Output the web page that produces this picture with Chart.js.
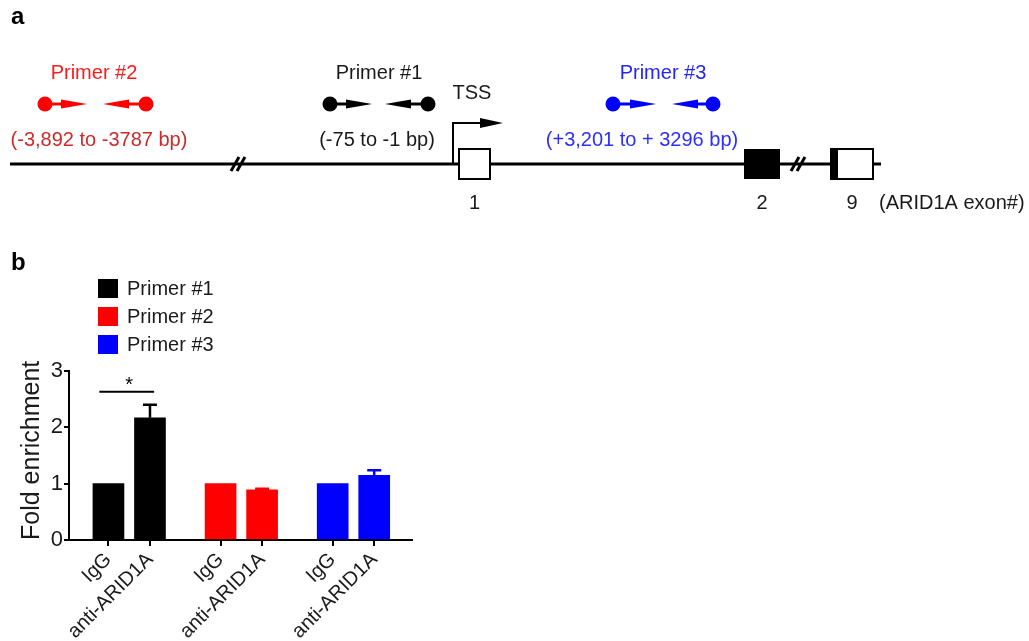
<!DOCTYPE html>
<html>
<head>
<meta charset="utf-8">
<script src="https://cdn.jsdelivr.net/npm/chart.js@4.4.1/dist/chart.umd.min.js"></script>
<style>
  html, body { margin: 0; padding: 0; background: #fff; }
  #page { position: relative; width: 1029px; height: 641px; overflow: hidden; }
  #diagramBox { position: absolute; left: 0; top: 0; width: 1029px; height: 240px; }
  #barBox { position: absolute; left: 0; top: 250px; width: 430px; height: 391px; }
</style>
</head>
<body>
<div id="page">
  <div id="diagramBox"><canvas id="diagrama"></canvas></div>
  <div id="barBox"><canvas id="grafico"></canvas></div>
</div>
<script>
// ---- panel a: ARID1A promoter schematic (positions along the drawn track) ----
const primerNames = ['Primer #1', 'Primer #2', 'Primer #3'];
const primerRanges = ['(-75 to -1 bp)', '(-3,892 to -3787 bp)', '(+3,201 to + 3296 bp)'];
const primerFwdDot = [330, 45, 613];
const primerFwdTip = [372, 87, 656];
const primerRevTip = [385, 103, 672];
const primerRevDot = [428, 146, 713];
const primerTitleAt = [379, 94, 663];
const primerRangeAt = [377, 99, 642];
const exonNumbers = ['1', '2', '9'];
const exonStart = [459, 744, 831];
const exonEnd = [490, 780, 873];
const backbone = [10, 881];
const breakAt = [238, 798];
const tssAt = 453;
const tssTip = 503;

// ---- panel b: ChIP-qPCR fold enrichment ----
const sampleLabels = ['IgG', 'anti-ARID1A'];
const primer1Values = [1.0, 2.17];
const primer2Values = [1.0, 0.89];
const primer3Values = [1.0, 1.15];
const primer1Errors = [0, 0.23];
const primer2Errors = [0, 0.02];
const primer3Errors = [0, 0.09];
const xSlots = [[0, 1], [2.7, 3.7], [5.4, 6.4]];
const yTicks = [0, 1, 2, 3];
const significance = { from: -0.22, to: 1.1, level: 2.63, mark: '*' };

const primerColors = ['#000000', '#ff0000', '#0000ff'];
const titleColors = ['#1a1a1a', '#ff1a1a', '#2424ff'];
const rangeColors = ['#1a1a1a', '#cc2b2b', '#2e2eff'];

const FONT = "'Liberation Sans', Arial, Helvetica, sans-serif";
Chart.defaults.font.family = FONT;
Chart.defaults.color = '#000';

// row heights of the schematic
const rowTitle = 73, rowPrimer = 104, rowTss = 123, rowRange = 140, rowBackbone = 164, rowExonNo = 203;

const diagramPlugin = {
  id: 'diagrama',
  afterDatasetsDraw(chart) {
    const ctx = chart.ctx;
    const X = v => chart.scales.x.getPixelForValue(v);
    const Y = v => chart.scales.y.getPixelForValue(v);
    ctx.save();

    // break marks //
    ctx.strokeStyle = '#000';
    ctx.lineWidth = 3;
    breakAt.forEach(b => {
      [-3, 3].forEach(off => {
        ctx.beginPath();
        ctx.moveTo(X(b + off - 4), Y(rowBackbone + 7));
        ctx.lineTo(X(b + off + 4), Y(rowBackbone - 7));
        ctx.stroke();
      });
    });

    // exons
    ctx.lineWidth = 2;
    exonNumbers.forEach((n, i) => {
      const x0 = X(exonStart[i]), x1 = X(exonEnd[i]);
      const y0 = Y(rowBackbone - 15), y1 = Y(rowBackbone + 15);
      if (n === '2') {
        ctx.fillStyle = '#000';
        ctx.fillRect(x0, y0, x1 - x0, y1 - y0);
      } else {
        ctx.fillStyle = '#fff';
        ctx.fillRect(x0, y0, x1 - x0, y1 - y0);
        ctx.strokeRect(x0, y0, x1 - x0, y1 - y0);
        if (n === '9') {
          ctx.fillStyle = '#000';
          ctx.fillRect(x0 - 1, y0 - 1, 8, y1 - y0 + 2);
        }
      }
      ctx.fillStyle = '#1a1a1a';
      ctx.font = '20px ' + FONT;
      ctx.textAlign = 'center';
      ctx.textBaseline = 'middle';
      ctx.fillText(n, (x0 + x1) / 2, Y(rowExonNo));
    });
    ctx.textAlign = 'left';
    ctx.fillText('(ARID1A exon#)', X(exonEnd[2] + 6), Y(rowExonNo));

    // TSS arrow
    ctx.strokeStyle = '#000';
    ctx.lineWidth = 2;
    ctx.beginPath();
    ctx.moveTo(X(tssAt), Y(rowBackbone));
    ctx.lineTo(X(tssAt), Y(rowTss));
    ctx.lineTo(X(tssTip) - 20, Y(rowTss));
    ctx.stroke();
    ctx.fillStyle = '#000';
    ctx.beginPath();
    ctx.moveTo(X(tssTip), Y(rowTss));
    ctx.lineTo(X(tssTip) - 23, Y(rowTss) - 5);
    ctx.lineTo(X(tssTip) - 23, Y(rowTss) + 5);
    ctx.closePath();
    ctx.fill();
    ctx.font = '20px ' + FONT;
    ctx.textAlign = 'center';
    ctx.fillStyle = '#1a1a1a';
    ctx.fillText('TSS', X(tssAt + 19), Y(rowTss - 30));

    // primer arrows and labels
    primerNames.forEach((name, i) => {
      const c = primerColors[i];
      const y = Y(rowPrimer);
      ctx.strokeStyle = c;
      ctx.fillStyle = c;
      ctx.lineWidth = 3;
      const pairs = [[primerFwdDot[i], primerFwdTip[i]], [primerRevDot[i], primerRevTip[i]]];
      pairs.forEach(([d, t]) => {
        const dir = t > d ? 1 : -1;
        const xt = X(t);
        ctx.beginPath();
        ctx.moveTo(X(d), y);
        ctx.lineTo(xt - dir * 20, y);
        ctx.stroke();
        ctx.beginPath();
        ctx.moveTo(xt, y);
        ctx.lineTo(xt - dir * 26, y - 4.5);
        ctx.lineTo(xt - dir * 26, y + 4.5);
        ctx.closePath();
        ctx.fill();
      });
      ctx.font = '20px ' + FONT;
      ctx.textAlign = 'center';
      ctx.textBaseline = 'middle';
      ctx.fillStyle = titleColors[i];
      ctx.fillText(name, X(primerTitleAt[i]), Y(rowTitle));
      ctx.fillStyle = rangeColors[i];
      ctx.fillText(primerRanges[i], X(primerRangeAt[i]), Y(rowRange));
    });

    // panel letter
    ctx.fillStyle = '#000';
    ctx.font = 'bold 24px ' + FONT;
    ctx.textAlign = 'left';
    ctx.textBaseline = 'alphabetic';
    ctx.fillText('a', 11, 24);
    ctx.restore();
  }
};

new Chart(document.getElementById('diagrama'), {
  type: 'scatter',
  data: {
    datasets: [
      {
        type: 'line',
        data: backbone.map(x => ({ x, y: rowBackbone })),
        borderColor: '#000',
        borderWidth: 3,
        pointRadius: 0
      },
      ...primerNames.map((name, i) => ({
        label: name,
        data: [{ x: primerFwdDot[i], y: rowPrimer }, { x: primerRevDot[i], y: rowPrimer }],
        backgroundColor: primerColors[i],
        borderColor: primerColors[i],
        pointRadius: 7.5,
        borderWidth: 0
      }))
    ]
  },
  options: {
    responsive: true,
    maintainAspectRatio: false,
    animation: false,
    layout: { padding: 0, autoPadding: false },
    plugins: { legend: { display: false }, tooltip: { enabled: false } },
    scales: {
      x: { type: 'linear', display: false, min: 0, max: 1029 },
      y: { type: 'linear', display: false, min: 0, max: 240, reverse: true }
    }
  },
  plugins: [diagramPlugin]
});

// ---- panel b ----
const values = [primer1Values, primer2Values, primer3Values];
const errors = [primer1Errors, primer2Errors, primer3Errors];

const extrasPlugin = {
  id: 'extras',
  afterDatasetsDraw(chart) {
    const ctx = chart.ctx;
    const xs = chart.scales.x, ys = chart.scales.y;
    ctx.save();
    // error bars (upper only)
    chart.data.datasets.forEach(ds => {
      ds.data.forEach((p, j) => {
        const e = ds.errors[j];
        if (!e) return;
        const x = xs.getPixelForValue(p.x);
        const y0 = ys.getPixelForValue(p.y);
        const y1 = ys.getPixelForValue(p.y + e);
        ctx.strokeStyle = ds.backgroundColor;
        ctx.lineWidth = 2.5;
        ctx.beginPath();
        ctx.moveTo(x, y0);
        ctx.lineTo(x, y1);
        ctx.moveTo(x - 7, y1);
        ctx.lineTo(x + 7, y1);
        ctx.stroke();
      });
    });
    // significance bracket
    const sy = ys.getPixelForValue(significance.level);
    ctx.strokeStyle = '#000';
    ctx.lineWidth = 2;
    ctx.beginPath();
    ctx.moveTo(xs.getPixelForValue(significance.from), sy);
    ctx.lineTo(xs.getPixelForValue(significance.to), sy);
    ctx.stroke();
    ctx.fillStyle = '#000';
    ctx.font = '20px ' + FONT;
    ctx.textAlign = 'center';
    ctx.textBaseline = 'alphabetic';
    ctx.fillText(significance.mark, xs.getPixelForValue((xSlots[0][0] + xSlots[0][1]) / 2), sy - 1);

    // legend
    ctx.textAlign = 'left';
    ctx.textBaseline = 'middle';
    chart.data.datasets.forEach((ds, i) => {
      const cy = 39 + i * 28;
      ctx.fillStyle = ds.backgroundColor;
      ctx.fillRect(98, cy - 10, 20, 19);
      ctx.fillStyle = '#1a1a1a';
      ctx.fillText(ds.label, 127, cy);
    });

    // panel letter
    ctx.fillStyle = '#000';
    ctx.font = 'bold 24px ' + FONT;
    ctx.textBaseline = 'alphabetic';
    ctx.fillText('b', 11, 20);
    ctx.restore();
  }
};

new Chart(document.getElementById('grafico'), {
  type: 'bar',
  data: {
    datasets: primerNames.map((label, i) => ({
      label,
      data: xSlots[i].map((x, j) => ({ x, y: values[i][j] })),
      backgroundColor: primerColors[i],
      borderWidth: 0,
      barThickness: 31,
      grouped: false,
      errors: errors[i]
    }))
  },
  options: {
    responsive: true,
    maintainAspectRatio: false,
    animation: false,
    layout: { padding: { top: 121, right: 18, left: 0, bottom: 0 }, autoPadding: false },
    plugins: { legend: { display: false }, tooltip: { enabled: false } },
    scales: {
      x: {
        type: 'linear',
        min: -0.95,
        max: 7.31,
        offset: false,
        grid: { drawOnChartArea: false, offset: false, tickLength: 6, color: '#000', lineWidth: 2 },
        border: { color: '#000', width: 2 },
        afterBuildTicks: s => { s.ticks = xSlots.flat().map(v => ({ value: v })); },
        afterFit: s => { s.height = 101; },
        ticks: {
          autoSkip: false,
          minRotation: 45,
          maxRotation: 45,
          padding: 2,
          color: '#1a1a1a',
          font: { size: 20 },
          callback: (v, idx) => sampleLabels[idx % 2]
        }
      },
      y: {
        min: 0,
        max: 3,
        afterBuildTicks: s => { s.ticks = yTicks.map(v => ({ value: v })); },
        afterFit: s => { s.width = 69; },
        grid: { drawOnChartArea: false, tickLength: 5, color: '#000', lineWidth: 2 },
        border: { color: '#000', width: 2 },
        ticks: { padding: 1, color: '#1a1a1a', font: { size: 22 } },
        title: {
          display: true,
          text: 'Fold enrichment',
          align: 'start',
          color: '#1a1a1a',
          font: { size: 25 },
          padding: { top: 17, bottom: 0 }
        }
      }
    }
  },
  plugins: [extrasPlugin]
});
</script>
</body>
</html>
